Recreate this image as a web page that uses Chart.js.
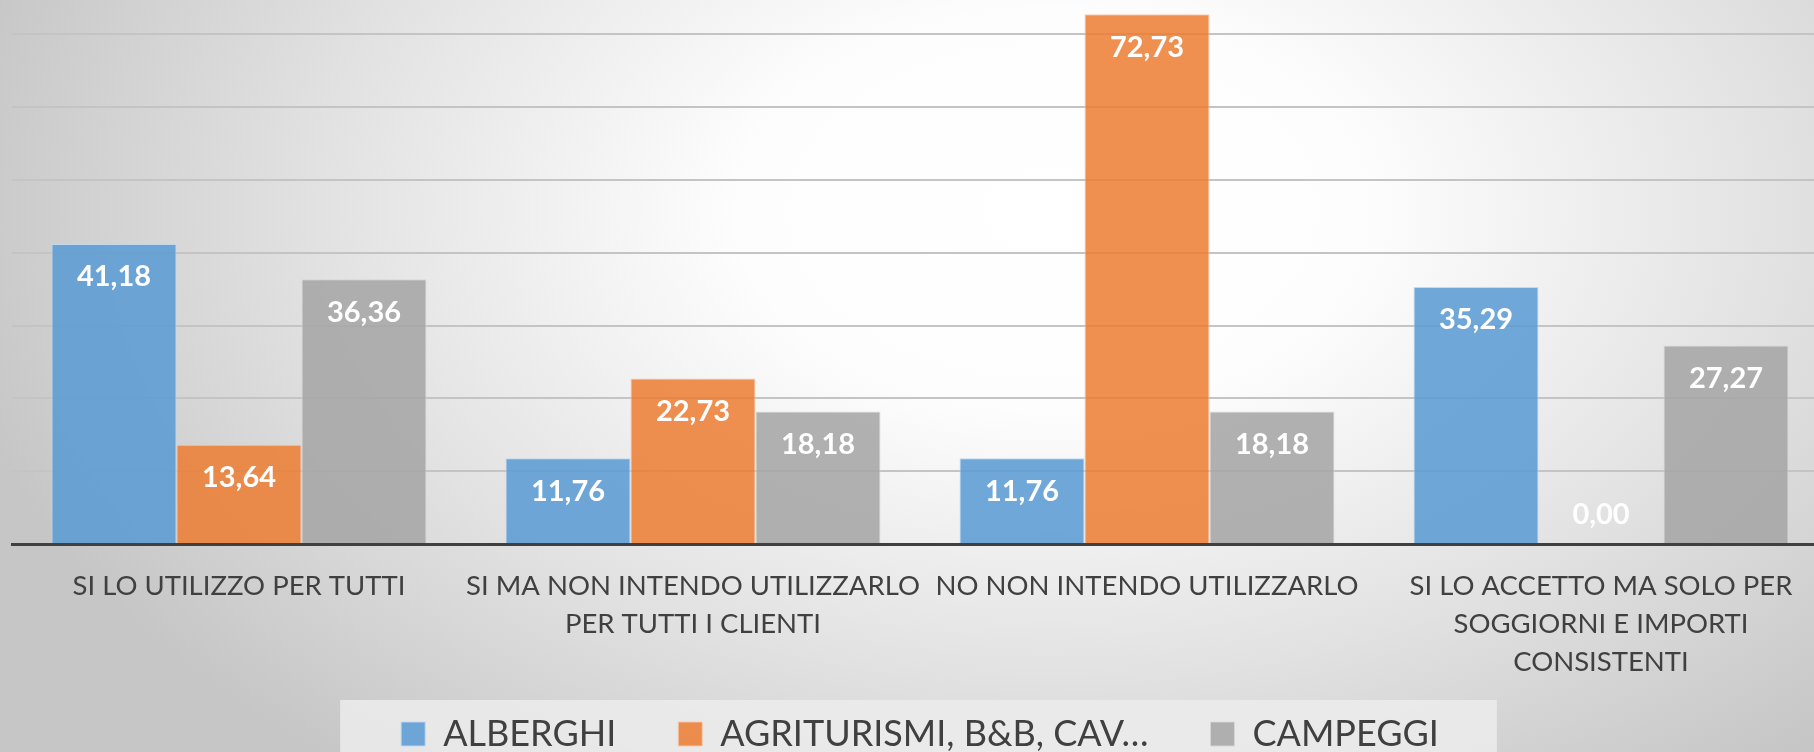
<!DOCTYPE html>
<html>
<head>
<meta charset="utf-8">
<script src="https://cdn.jsdelivr.net/npm/chart.js@4.4.1/dist/chart.umd.min.js"></script>
<style>
    html, body {
        margin: 0;
        padding: 0;
        width: 1814px;
        height: 752px;
        overflow: hidden;
    }
    body {
        background: radial-gradient(ellipse 62% 95% at 58% 28%, #ffffff 0%, #fdfdfd 28%, #e2e2e2 65%, #c6c6c6 100%);
    }
    #myBarChart {
        position: absolute;
        left: 0;
        top: 0;
    }
</style>
</head>
<body>
<canvas id="myBarChart" width="1830" height="792"></canvas>
<script>
// categorie (asse x)
const categorie = [
    'SI LO UTILIZZO PER TUTTI',
    ['SI MA NON INTENDO UTILIZZARLO', 'PER TUTTI I CLIENTI'],
    'NO NON INTENDO UTILIZZARLO',
    ['SI LO ACCETTO MA SOLO PER', 'SOGGIORNI E IMPORTI', 'CONSISTENTI'],
];

// nomi delle serie (come in legenda)
const serie = ['ALBERGHI', 'AGRITURISMI, B&B, CAV…', 'CAMPEGGI'];

// valori %
const alberghi = [41.18, 11.76, 11.76, 35.29];
const agriturismi = [13.64, 22.73, 72.73, 0.00];
const campeggi = [36.36, 18.18, 18.18, 27.27];

const colori = ['rgba(91, 155, 213, 0.87)', 'rgba(237, 125, 49, 0.85)', 'rgba(165, 165, 165, 0.87)'];
const bordi = ['rgba(190, 215, 240, 0.9)', 'rgba(248, 200, 170, 0.9)', 'rgba(215, 215, 215, 0.9)'];

const data1 = {
    labels: categorie,
    datasets: [alberghi, agriturismi, campeggi].map((valori, i) => ({
        label: serie[i],
        data: valori,
        backgroundColor: colori[i],
        borderColor: bordi[i],
        borderWidth: 1,
        categoryPercentage: 0.826,
        barPercentage: 1.0,
    })),
};

// etichette dei valori dentro le barre (0,00 formato italiano)
const etichetteValori = {
    id: 'etichetteValori',
    afterDatasetsDraw(chart) {
        const ctx = chart.ctx;
        ctx.save();
        ctx.font = 'bold 29px Lato';
        ctx.fillStyle = '#ffffff';
        ctx.textAlign = 'center';
        ctx.textBaseline = 'middle';
        chart.data.datasets.forEach((ds, i) => {
            chart.getDatasetMeta(i).data.forEach((bar, j) => {
                const y = Math.min(bar.y + 33, bar.base - 29);
                ctx.fillText(ds.data[j].toFixed(2).replace('.', ','), bar.x, y);
            });
        });
        ctx.restore();
    },
};

// la legenda sale un po' sotto le etichette lunghe dell'asse x
const spostaLegenda = {
    id: 'spostaLegenda',
    afterLayout(chart) {
        const l = chart.legend;
        l.top -= 30;
        l.bottom -= 30;
    },
};

// sfondo chiaro dietro la legenda
const sfondoLegenda = {
    id: 'sfondoLegenda',
    beforeDraw(chart) {
        const boxes = chart.legend && chart.legend.legendHitBoxes;
        if (!boxes || !boxes.length) return;
        const left = Math.min(...boxes.map(b => b.left)) - 61;
        const right = Math.max(...boxes.map(b => b.left + b.width)) + 58;
        const top = boxes[0].top + boxes[0].height / 2 - 34;
        const ctx = chart.ctx;
        ctx.save();
        ctx.fillStyle = 'rgba(236, 236, 236, 0.85)';
        ctx.fillRect(left, top, right - left, chart.height - top);
        ctx.restore();
    },
};

const config = {
    type: 'bar',
    data: data1,
    options: {
        responsive: false,
        animation: false,
        layout: {
            padding: { left: 12, right: 2, top: 0, bottom: 0 },
        },
        scales: {
            x: {
                grid: { display: false, drawTicks: false },
                border: { display: true, color: '#404040', width: 3 },
                ticks: {
                    color: '#404040',
                    font: { family: 'Lato', size: 27.5, lineHeight: 1.39 },
                    padding: 23,
                    maxRotation: 0,
                    autoSkip: false,
                },
                afterFit: (scale) => { scale.height = 140; },
            },
            y: {
                min: 0,
                max: 74.7,
                ticks: { display: false, stepSize: 10 },
                border: { display: false },
                grid: {
                    drawTicks: false,
                    lineWidth: 2,
                    color: (c) => (c.tick.value > 0 && c.tick.value % 10 === 0) ? '#c4c4c4' : 'rgba(0,0,0,0)',
                },
            },
        },
        plugins: {
            legend: {
                position: 'bottom',
                labels: {
                    color: '#404040',
                    font: { family: 'Lato', size: 36 },
                    boxWidth: 24,
                    boxHeight: 24,
                    padding: 62,
                },
            },
            tooltip: { enabled: false },
            title: { display: false },
        },
    },
    plugins: [spostaLegenda, sfondoLegenda, etichetteValori],
};

var ctx = document.getElementById('myBarChart').getContext('2d');
var myBarChart = new Chart(ctx, config);
</script>
</body>
</html>
